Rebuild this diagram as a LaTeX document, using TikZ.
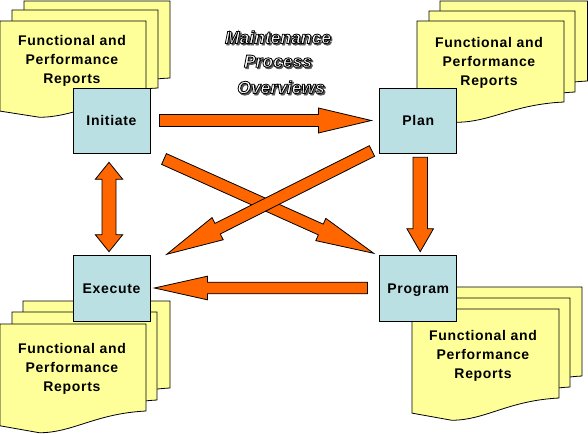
\documentclass[tikz,border=0pt]{standalone}
\usepackage{fontspec}
\setmainfont{Liberation Sans}
\newfontfamily\boxfont[LetterSpace=5]{Liberation Sans}
\usetikzlibrary{positioning, calc}
\definecolor{SheetYellow}{RGB}{255, 255, 153}
\definecolor{BoxBlue}{RGB}{187, 224, 227}
\definecolor{ArrowOrange}{RGB}{255, 102, 0}
\tikzset{
  reportsheet/.style={draw=black, line width=0.8pt, fill=SheetYellow},
  phasebox/.style={draw=black, line width=0.8pt, fill=BoxBlue, minimum width=77pt, minimum height=65pt, inner sep=0pt, text height=10pt, text depth=0pt, font=\boxfont\fontsize{14}{19}\selectfont\bfseries},
  reportlabel/.style={align=center, inner sep=0pt, font=\boxfont\fontsize{14}{19}\selectfont\bfseries},
  blockarrow/.style={draw=black, line width=0.8pt, fill=ArrowOrange, line join=miter},
  titlelabel/.style={inner sep=0pt, font=\fontsize{17.5}{25}\selectfont\bfseries\itshape}
}
% left, top, right, bottom at the right edge
\newcommand{\reportsheet}[4]{%
  \draw[reportsheet] (#1,#2) -- (#3,#2) -- (#3,#4)
    .. controls ({#3-0.35*(#3-#1)},{#4+0.03*(#4-#2)}) and ({#3-0.5*(#3-#1)},{#2+1.25*(#4-#2)}) .. ({#1+0.27*(#3-#1)},{#2+1.25*(#4-#2)})
    -- (#1,{#2+1.17*(#4-#2)}) -- cycle;}
% shaft half width, head half width, head length, from, to
\newcommand{\blockarrow}[5]{%
  \coordinate (headbase) at ($(#5)!#3!(#4)$);
  \draw[blockarrow] ($(#4)!#1!90:(#5)$) -- ($(headbase)!#1!90:(#5)$) -- ($(headbase)!#2!90:(#5)$) -- (#5)
    -- ($(headbase)!#2!-90:(#5)$) -- ($(headbase)!#1!-90:(#5)$) -- ($(#4)!#1!-90:(#5)$) -- cycle;}
% shaft half width, head half width, head length, one tip, other tip
\newcommand{\doublearrow}[5]{%
  \coordinate (headbase) at ($(#5)!#3!(#4)$);
  \coordinate (tailbase) at ($(#4)!#3!(#5)$);
  \draw[blockarrow] (#4) -- ($(tailbase)!#2!90:(#5)$) -- ($(tailbase)!#1!90:(#5)$) -- ($(headbase)!#1!90:(#5)$) -- ($(headbase)!#2!90:(#5)$) -- (#5)
    -- ($(headbase)!#2!-90:(#5)$) -- ($(headbase)!#1!-90:(#5)$) -- ($(tailbase)!#1!-90:(#5)$) -- ($(tailbase)!#2!-90:(#5)$) -- cycle;}
% name, position, text
\newcommand{\titleline}[3]{%
  \node[titlelabel, text=white] (#1) at (#2) {\rlap{\kern1.5pt\raisebox{-1.5pt}{\color{black!65}\special{pdf:code 2 Tr 0.8 w}#3\special{pdf:code 0 Tr}}}\special{pdf:code 2 Tr 0.8 w 0 0 0 RG}#3\special{pdf:code 0 Tr}};}
\begin{document}
\begin{tikzpicture}[x=1pt, y=-1pt]
    \useasboundingbox (0,0) rectangle (588,433);

    % Sheets
    \reportsheet{24}{1}{170}{78}
    \reportsheet{12}{10}{158}{88}
    \reportsheet{0}{21}{146}{98}
    \reportsheet{440}{1}{587.5}{81}
    \reportsheet{429}{11}{575}{92}
    \reportsheet{417}{21}{564}{102}
    \reportsheet{23}{301}{170}{388}
    \reportsheet{12}{312}{157}{400}
    \reportsheet{0}{324}{146}{411}
    \reportsheet{435}{287}{582}{376}
    \reportsheet{423}{298}{570}{387}
    \reportsheet{412}{309}{559}{398}

    % Boxes
    \node[phasebox] (initiate) at (111.5,120.5) {Initiate};
    \node[phasebox, right=229pt of initiate] (plan) {Plan};
    \node[phasebox, minimum height=66pt] (execute) at (111.5,288) {Execute};
    \node[phasebox, minimum height=66pt, right=229pt of execute] (program) {Program};

    % Labels
    \node[reportlabel] (initiatereports) at (72,60.5) {Functional and\\Performance\\Reports};
    \node[reportlabel] (planreports) at (489,63) {Functional and\\Performance\\Reports};
    \node[reportlabel] (executereports) at (72,368.5) {Functional and\\Performance\\Reports};
    \node[reportlabel] (programreports) at (483,355.5) {Functional and\\Performance\\Reports};

    % Ends of the arrows
    \coordinate (initiateout) at ($(initiate.east)+(9,0)$);
    \coordinate (planin) at ($(plan.west)+(-8,0)$);
    \coordinate (planleft) at (372,151);
    \coordinate (executeright) at (166.7,254.3);
    \coordinate (initiateright) at (164,159);
    \coordinate (programleft) at (373.7,253.3);
    \coordinate (programout) at ($(program.west)+(-12,0)$);
    \coordinate (executein) at ($(execute.east)+(4,0)$);
    \coordinate (plandown) at (420.2,157.3);
    \coordinate (programup) at (420.2,251.7);
    \coordinate (initiatedown) at (109,162.3);
    \coordinate (executeup) at (109,251.7);

    % Arrows
    \blockarrow{6pt}{12.5pt}{53pt}{initiateout}{planin}
    \blockarrow{5.9pt}{12.2pt}{58pt}{initiateright}{programleft}
    \blockarrow{5.9pt}{12.4pt}{57pt}{planleft}{executeright}
    \blockarrow{5.8pt}{11.8pt}{53pt}{programout}{executein}
    \blockarrow{7.2pt}{13.3pt}{23pt}{plandown}{programup}
    \doublearrow{7pt}{13.7pt}{17pt}{initiatedown}{executeup}

    % Title
    \titleline{maintenance}{278,38}{Maintenance}
    \titleline{process}{278,62}{Process}
    \titleline{overviews}{281,88}{Overviews}
  \end{tikzpicture}
\end{document}
